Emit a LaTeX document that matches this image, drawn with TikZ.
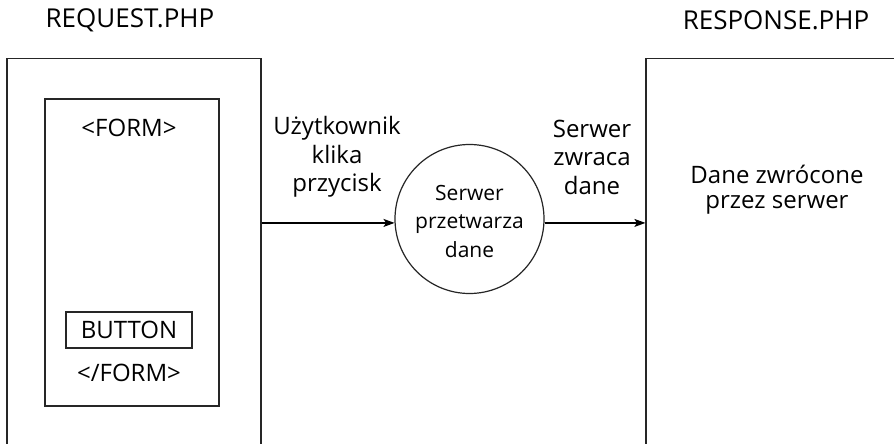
\documentclass[tikz,border=0pt]{standalone}
\usepackage{fontspec}
\setmainfont{Open Sans}
\usetikzlibrary{shapes.geometric,arrows.meta}
\begin{document}
\begin{tikzpicture}[x=1pt,y=-1pt,
  frame/.style={draw=black!85,line width=1.2pt,rectangle,inner sep=0pt},
  title/.style={font=\fontsize{26}{30}\selectfont},
  lbl/.style={font=\fontsize{24}{28.5}\selectfont,align=center,inner sep=0pt},
  small/.style={font=\fontsize{21}{28.5}\selectfont,align=center,inner sep=0pt},
  flow/.style={draw=black,line width=1.2pt,-{Stealth[length=11pt,width=8pt,inset=2.5pt]}}]
\useasboundingbox (0,0) rectangle (894,444);
\fill[white] (0,0) rectangle (894,444);
% titles
\node[title] (treq) at (130,20) {REQUEST.PHP};
\node[title] (tresp) at (776,20) {RESPONSE.PHP};
% main boxes (bottom / right edges run off the picture)
\node[frame,minimum width=254,minimum height=420] (req) at (134,268.5) {};
\node[frame,minimum width=274,minimum height=420] (resp) at (783,268.5) {};
% inner form box
\node[frame,minimum width=174,minimum height=307] (form) at (132,252.5) {};
\node[lbl] (fopen) at (129,128) {<FORM>};
\node[frame,lbl,minimum width=126,minimum height=36] (btn) at (129,330) {BUTTON};
\node[lbl] (fclose) at (129,373) {</FORM>};
% server
\node[draw=black!85,line width=1.2pt,circle,minimum size=149,inner sep=0pt] (srv) at (469.5,219) {};
\node[small] (srvtxt) at (469.5,221) {Serwer\\przetwarza\\dane};
% labels
\node[lbl] (l1) at (337,157) {Użytkownik\\klika\\przycisk};
\node[lbl] (l2) at (592,157) {Serwer\\zwraca\\dane};
\node[lbl,font=\fontsize{24}{25}\selectfont] (l3) at (777,190) {Dane zwrócone\\przez serwer};
% connectors
\draw[flow] (req.east |- srv.183) -- (srv.183);
\draw[flow] (srv.357) -- (resp.west |- srv.357);
\end{tikzpicture}
\end{document}
